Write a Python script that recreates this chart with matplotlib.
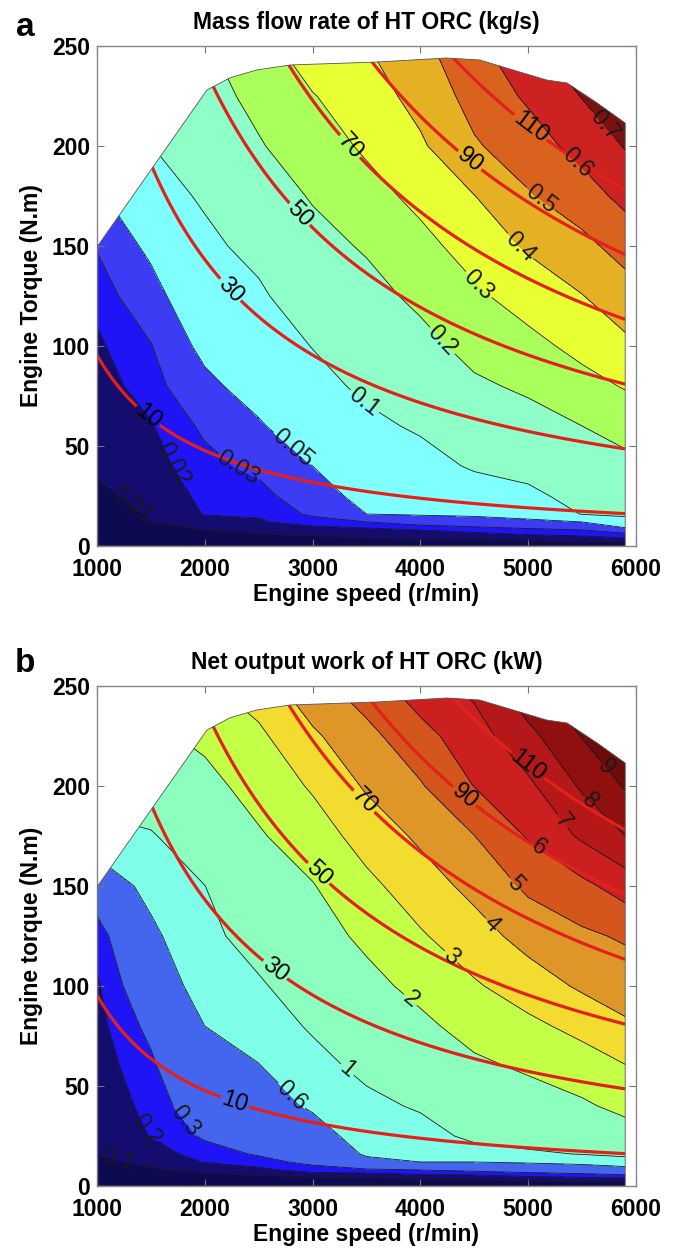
import numpy as np
import matplotlib
matplotlib.use('Agg')
import matplotlib.pyplot as plt
from matplotlib import font_manager
from matplotlib.patches import Polygon

# grid of values (rows: torque, cols: speed)
speed = [1000, 1500, 2000, 2500, 3000, 3500, 4000, 4500, 5000, 5500, 5900]
torque = [0, 4, 8, 12, 16, 25, 40, 60, 80, 100, 125, 150, 175, 200, 225, 250]

mass_flow = [
    [0, 0, 0, 0, 0, 0, 0, 0, 0, 0, 0],
    [0.0013, 0.0033, 0.005, 0.0067, 0.008, 0.010, 0.012, 0.0125, 0.015, 0.0167, 0.020],
    [0.0027, 0.0067, 0.010, 0.0129, 0.015, 0.0167, 0.020, 0.0233, 0.0267, 0.030, 0.0367],
    [0.004, 0.010, 0.0167, 0.0186, 0.025, 0.030, 0.0367, 0.040, 0.045, 0.050, 0.0833],
    [0.0053, 0.0108, 0.0205, 0.0214, 0.0322, 0.050, 0.0524, 0.0543, 0.0588, 0.1022, 0.1081],
    [0.0083, 0.0125, 0.0226, 0.0255, 0.0389, 0.0579, 0.0631, 0.0739, 0.0853, 0.122, 0.1324],
    [0.0112, 0.0154, 0.0262, 0.0334, 0.050, 0.0711, 0.081, 0.106, 0.122, 0.156, 0.173],
    [0.0135, 0.0192, 0.0324, 0.0472, 0.0669, 0.0886, 0.1067, 0.146, 0.167, 0.200, 0.236],
    [0.0158, 0.0241, 0.0441, 0.0607, 0.0839, 0.1096, 0.140, 0.186, 0.214, 0.267, 0.307],
    [0.0181, 0.0292, 0.0563, 0.074, 0.1014, 0.137, 0.173, 0.228, 0.271, 0.328, 0.379],
    [0.0228, 0.0407, 0.0719, 0.0907, 0.136, 0.171, 0.219, 0.283, 0.342, 0.397, 0.456],
    [0.031, 0.0553, 0.0875, 0.1167, 0.171, 0.209, 0.271, 0.340, 0.4125, 0.473, 0.538],
    [0.045, 0.0772, 0.107, 0.1545, 0.207, 0.264, 0.326, 0.398, 0.491, 0.555, 0.628],
    [0.070, 0.099, 0.140, 0.1924, 0.251, 0.315, 0.386, 0.489, 0.554, 0.634, 0.706],
    [0.100, 0.130, 0.165, 0.225, 0.295, 0.356, 0.432, 0.536, 0.615, 0.704, 0.784],
    [0.130, 0.160, 0.190, 0.262, 0.359, 0.397, 0.475, 0.576, 0.676, 0.785, 0.860],
]

net_work = [
    [0, 0, 0, 0, 0, 0, 0, 0, 0, 0, 0],
    [0.027, 0.044, 0.057, 0.067, 0.08, 0.089, 0.12, 0.12, 0.16, 0.18, 0.2],
    [0.053, 0.089, 0.125, 0.167, 0.25, 0.267, 0.3, 0.333, 0.367, 0.4, 0.45],
    [0.08, 0.12, 0.205, 0.26, 0.333, 0.533, 0.6, 0.6, 0.636, 0.689, 0.8],
    [0.101, 0.147, 0.248, 0.3125, 0.376, 0.631, 0.664, 0.81, 0.927, 1.018, 1.105],
    [0.11, 0.202, 0.318, 0.369, 0.475, 0.723, 0.808, 1.112, 1.205, 1.333, 1.579],
    [0.125, 0.233, 0.395, 0.4625, 0.636, 0.877, 1.056, 1.422, 1.59, 1.86, 2.25],
    [0.145, 0.275, 0.497, 0.5875, 0.841, 1.123, 1.43, 1.835, 2.129, 2.533, 2.964],
    [0.165, 0.335, 0.6, 0.757, 1.057, 1.431, 1.804, 2.333, 2.774, 3.293, 3.864],
    [0.185, 0.422, 0.713, 0.93, 1.312, 1.738, 2.247, 2.889, 3.491, 4.149, 4.436],
    [0.236, 0.53, 0.854, 1.23, 1.631, 2.182, 2.896, 3.583, 4.365, 4.824, 5.125],
    [0.395, 0.692, 0.994, 1.568, 1.949, 2.75, 3.525, 4.282, 5.185, 5.755, 6.444],
    [0.76, 0.95, 1.358, 1.905, 2.5, 3.41, 4.176, 4.986, 6.086, 7.16, 8.0],
    [1.33, 1.36, 1.731, 2.34, 3.116, 4.119, 4.91, 6.022, 6.8, 8.143, 9.09],
    [2.17, 1.82, 2.19, 2.81, 3.84, 4.714, 5.667, 6.578, 7.706, 9.04, 10.2],
    [3.0, 2.3, 2.86, 3.5, 4.65, 5.52, 6.54, 7.23, 8.77, 10.0, 11.5],
]

# full-load torque curve of the engine
limit_speed = [1000, 2020, 2230, 2480, 2790, 3600, 4245, 4550, 4860, 5170, 5360, 5640, 5900]
limit_torque = [149.5, 228, 234, 238, 240.5, 242, 244, 243, 238, 233, 231.5, 221.5, 211.5]

power_levels = [10, 30, 50, 70, 90, 110]  # kW
flow_levels = [0.01, 0.02, 0.03, 0.05, 0.1, 0.2, 0.3, 0.4, 0.5, 0.6, 0.7]
work_levels = [0.1, 0.2, 0.3, 0.6, 1, 2, 3, 4, 5, 6, 7, 8, 9]

flow_colors = ['#0e0a52', '#140c6e', '#1e14f5', '#3c3cf5', '#80ffff', '#8effc8',
               '#aaff5a', '#e8ff34', '#e6b024', '#d8621e', '#cc2222', '#7a1212']
work_colors = ['#0e0a52', '#140c6e', '#1e14f5', '#4466ee', '#80ffe8', '#8cffbe',
               '#c4ff48', '#f2dc30', '#de9628', '#d4561c', '#cc2020', '#b41818',
               '#901010', '#6e0c0c']

names = {f.name for f in font_manager.fontManager.ttflist}
if 'Liberation Sans Narrow' in names:
    bold_font, big = 'Liberation Sans Narrow', 20
else:
    bold_font, big = 'Liberation Sans', 16.5
plt.rcParams['font.family'] = ['Liberation Sans', 'DejaVu Sans']


def draw_panel(ax, z, levels, colors, title, ylabel, line_pos, power_pos):
    patch = Polygon(list(zip(limit_speed + [5900, 1000], limit_torque + [0, 0])),
                    closed=True, facecolor='none', edgecolor='#555555', lw=0.6, zorder=5)
    ax.add_patch(patch)

    cf = ax.contourf(speed, torque, z, levels=[-1] + levels + [1000], colors=colors)
    cf.set_clip_path(patch)
    cl = ax.contour(speed, torque, z, levels=levels, colors='#1a1a1a', linewidths=0.6)
    cl.set_clip_path(patch)
    ax.clabel(cl, manual=line_pos, fmt='%g', fontsize=17, inline=True, inline_spacing=2)

    n = np.linspace(1000, 5900, 300)
    t = np.linspace(0, 250, 300)
    N, T = np.meshgrid(n, t)
    P = T * N * np.pi / 30000.0
    pl = ax.contour(N, T, P, levels=power_levels, colors='#e3211c', linewidths=2.3)
    pl.set_clip_path(patch)
    ax.clabel(pl, manual=power_pos, fmt='%g', fontsize=17, colors='k', inline=True,
              inline_spacing=2)

    ax.set_xlim(1000, 6000)
    ax.set_ylim(0, 250)
    ax.set_xticks(range(1000, 6001, 1000))
    ax.set_yticks(range(0, 251, 50))
    ax.tick_params(direction='in', top=True, right=True, length=5, width=0.8,
                   color='#777777', labelsize=big, pad=5)
    ax.tick_params(axis='x', pad=9)
    for lbl in ax.get_xticklabels() + ax.get_yticklabels():
        lbl.set_fontweight('bold')
        lbl.set_family(bold_font)
    for s in ax.spines.values():
        s.set_color('#888888')
        s.set_linewidth(1.0)
    ax.set_title(title, fontsize=big, fontweight='bold', family=bold_font, pad=12)
    ax.set_xlabel('Engine speed (r/min)', fontsize=big, fontweight='bold',
                  family=bold_font, labelpad=1)
    ax.set_ylabel(ylabel, fontsize=big, fontweight='bold', family=bold_font, labelpad=6)


fig = plt.figure(figsize=(6.76, 12.5), dpi=100)
ax1 = fig.add_axes([0.1435, 0.5632, 0.7973, 0.4])
ax2 = fig.add_axes([0.1435, 0.0512, 0.7973, 0.4])

draw_panel(ax1, mass_flow, flow_levels, flow_colors,
           'Mass flow rate of HT ORC (kg/s)', 'Engine Torque (N.m)',
           [(1230, 13), (1650, 39), (2330, 41.5), (2840, 50.5), (3470, 71.5),
            (4180, 101.5), (4580, 133), (4920, 149.5), (5140, 175.5), (5430, 190.5),
            (5710, 210.5)],
           [(1473, 65), (2235, 128), (2880, 166), (3350, 200), (4460, 193), (5017, 209)])

draw_panel(ax2, net_work, work_levels, work_colors,
           'Net output work of HT ORC (kW)', 'Engine torque (N.m)',
           [(1185, 9.5), (1445, 28), (1845, 34), (2840, 47), (3320, 58), (3920, 94),
            (4275, 114), (4650, 130.5), (4850, 149.5), (5080, 168), (5300, 181.5),
            (5570, 192), (5730, 209.5)],
           [(2280, 42), (2650, 108), (3050, 156), (3470, 192), (4410, 195), (4990, 210)])

fig.text(25 / 676, 1 - 28 / 1250, 'a', fontsize=24, fontweight='bold', family=bold_font,
         ha='center', va='center')
fig.text(25 / 676, 1 - 663 / 1250, 'b', fontsize=24, fontweight='bold', family=bold_font,
         ha='center', va='center')

fig.savefig('out.png', dpi=100)
